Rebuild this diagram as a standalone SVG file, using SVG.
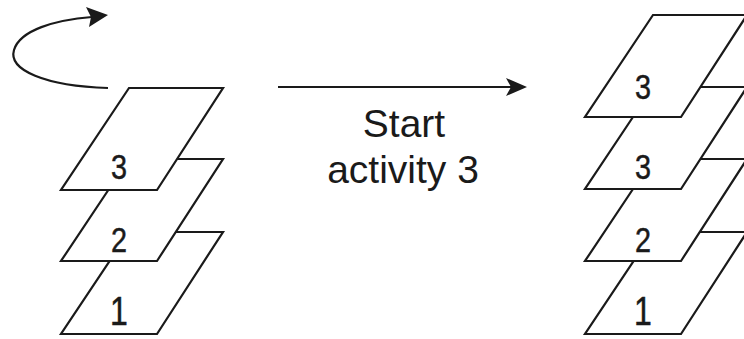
<svg xmlns="http://www.w3.org/2000/svg" width="744" height="339" viewBox="0 0 744 339">
<style>
.sheet{fill:#fff;stroke:#1a1a1a;stroke-width:2.2;stroke-linejoin:miter}
.num{font-family:"Liberation Sans",Arial,sans-serif;font-size:36px;fill:#1a1a1a;stroke:#1a1a1a;stroke-width:0.5;text-anchor:middle}
.one{font-size:40px}
.lbl{font-family:"Liberation Sans",Arial,sans-serif;font-size:39px;fill:#1a1a1a;text-anchor:middle}
.conn{fill:none;stroke:#1a1a1a;stroke-width:2.2}
</style>
<defs>
<polygon id="para" points="68,0 162,0 96,102 0,102"/>
</defs>
<rect width="744" height="339" fill="#fff"/>
<g id="left-stack">
<g id="left-sheet-1"><use href="#para" class="sheet" x="61" y="232"/><text class="num one" transform="translate(119,325) scale(0.8,1)">1</text></g>
<g id="left-sheet-2"><use href="#para" class="sheet" x="61" y="159"/><text class="num" transform="translate(119,252) scale(0.8,1)">2</text></g>
<g id="left-sheet-3"><use href="#para" class="sheet" x="61" y="88"/><text class="num" transform="translate(119,179) scale(0.8,1)">3</text></g>
</g>
<g id="right-stack">
<g id="right-sheet-1"><use href="#para" class="sheet" x="585" y="232"/><text class="num one" transform="translate(643,325) scale(0.8,1)">1</text></g>
<g id="right-sheet-2"><use href="#para" class="sheet" x="585" y="159"/><text class="num" transform="translate(643,252) scale(0.8,1)">2</text></g>
<g id="right-sheet-3"><use href="#para" class="sheet" x="585" y="87"/><text class="num" transform="translate(643,179) scale(0.8,1)">3</text></g>
<g id="right-sheet-4"><use href="#para" class="sheet" x="585" y="15"/><text class="num" transform="translate(643,99) scale(0.8,1)">3</text></g>
</g>
<g id="connectors">
<path class="conn" d="M108,88 C45,86 8,70 14,50 C20,30 55,20 92,17"/>
<polygon points="108,15 86,7 91,17 89,27" fill="#1a1a1a"/>
<line class="conn" x1="278" y1="87" x2="512" y2="87"/>
<polygon points="527,87 506,78 511,87 506,96" fill="#1a1a1a"/>
</g>
<g id="label">
<text class="lbl" x="404" y="137">Start</text>
<text class="lbl" x="403" y="183">activity 3</text>
</g>
</svg>
